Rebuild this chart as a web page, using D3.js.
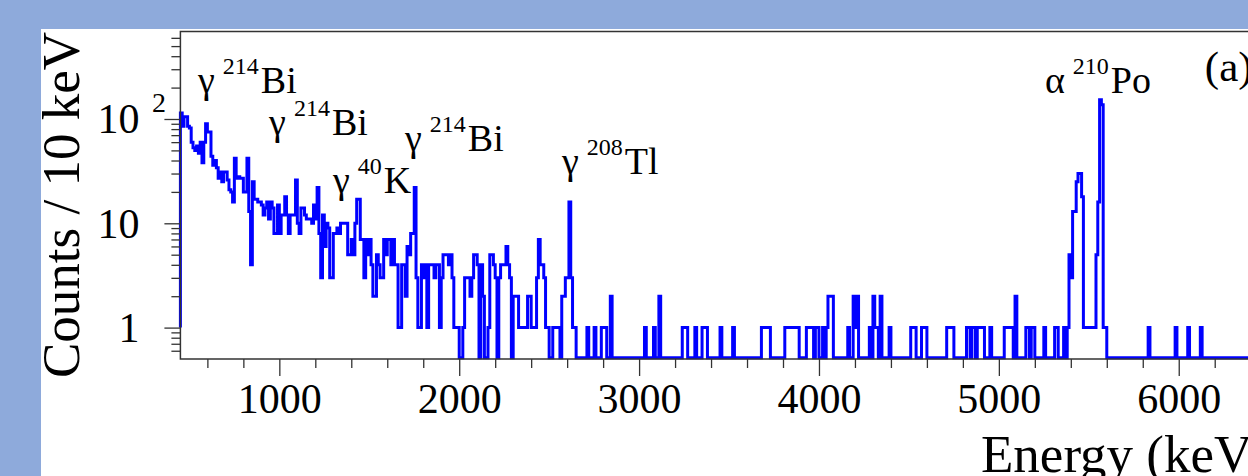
<!DOCTYPE html>
<html><head><meta charset="utf-8">
<script src="https://cdn.jsdelivr.net/npm/d3@7"></script>
<style>
html,body{margin:0;padding:0;background:#8eaadb;overflow:hidden;}
svg{display:block;}
text{font-family:"Liberation Serif","Times New Roman",serif;fill:#000;}
</style></head><body>
<svg id="c" width="1248" height="476"></svg>
<script>
// ---------- data ----------
const binStart = 450;          // keV, first bin lower edge
const binWidth = 10;           // keV
const binEnd = 7000;           // keV
// counts per 10 keV bin from 450 keV to 2650 keV
const denseCounts = [
  114, 85,105,105, 85, 82, 60, 53, 50, 55,
   47, 60, 38, 60, 90, 75, 75, 44, 36, 40,
   34, 27, 31, 25, 31, 31, 26, 21, 20, 16,
   42, 27, 28, 27, 27, 20, 20, 42, 13,  4,
   25, 17, 17, 16, 16, 15, 12, 14, 16, 11,
   16, 14,  8,  8, 15,  8, 12, 12, 18, 12,
    8, 12, 12, 12, 26, 10,  8, 14, 14, 12,
   11, 11, 11, 10, 15, 11, 22,  8,  3, 12,
    6, 10,  9,  3,  3,  8,  8,  9,  8, 10,
   10, 10, 10,  5,  5,  7,  5, 10, 17, 17,
    7,  7,  3,  7,  5,  7,  4,  2,  2,  5,
    4,  3,  3,  7,  5,  7,  7,  4,  7,  4,
    4,  1,  1,  4,  4,  2,  6,  5,  8,  8,
   22,  3,  1,  1,  4,  3,  4,  1,  4,  4,
    4,  3,  4,  4,  1,  3,  5,  5,  5,  4,
    5,  3,  1,  1,  1,  0,  0,  1,  3,  3,
    3,  2,  3,  5,  5,  4,  0,  4,  2,  0,
    0,  1,  5,  5,  4,  3,  0,  3,  4,  4,
    4,  6,  4,  3,  0,  2,  2,  2,  1,  1,
    1,  1,  1,  2,  2,  1,  1,  1,  3,  7,
    4,  4,  3,  1,  1,  0,  0,  1,  1,  1,
    1,  0,  2,  2,  3,  3, 16,  3,  1,  1
];
// non-empty bins above 2650 keV (bin lower edge, counts)
const sparseEnergy = [
  2710,2750,2790,2800,2810,2840,3030,3080,3110,3240,3250,3260,3310,3350,3360,3370,3450,3520,
  3680,3690,3700,3710,3720,3810,3820,3830,3840,3850,3860,3870,3880,3930,3940,3950,3960,3980,3990,
  4020,4040,4050,4060,4070,4160,4190,4200,4210,4280,4300,4310,4320,4340,4390,
  4510,4520,4530,4570,4580,4590,4710,4720,4730,4740,4820,4830,4850,4860,4880,4890,4900,4910,4950,
  5030,5040,5050,5060,5070,5090,5150,5160,5180,5190,5250,5310,5320,5360,5380,
  5390,5400,5410,5420,5430,5440,5450,5460,5470,5480,5490,5500,5510,5520,5530,
  5540,5550,5560,5570,5580,5590,5830,5980,6050,6120
];
const sparseCount = [
  1,1,1,1,1,2,1,1,2,1,1,1,1,1,1,1,1,1,
  1,1,1,1,1,1,1,1,1,1,1,1,1,1,1,1,1,1,1,
  1,1,2,2,2,1,2,1,2,1,2,1,1,2,1,
  1,1,1,1,1,1,1,1,1,1,1,1,1,1,1,1,1,1,1,
  1,1,1,1,1,2,1,1,1,1,1,1,1,1,1,
  5,3,13,13,25,30,30,18,1,1,1,1,1,1,1,
  5,16,153,137,1,1,1,1,1,1
];
const xMajorTicks = [1000,2000,3000,4000,5000,6000,7000];
const xMinorTicks = d3.range(600, 7000, 200).filter(v => v % 1000 !== 0);
const yMajorTicks = [1, 10, 100];
const yMajorLabels = ["1", "10", "10"];
const yMajorExponents = ["", "", "2"];
const yMinorTicks = [0.6,0.7,0.8,0.9,2,3,4,5,6,7,8,9,20,30,40,50,60,70,80,90,200,300,400,500,600];
// peak annotations (anchor given in data coordinates: energy, counts)
const labelGreek   = ["γ","γ","γ","γ","γ","α"];
const labelMass    = ["214","214","40","214","208","210"];
const labelElement = ["Bi","Bi","K","Bi","Tl","Po"];
const labelEnergy  = [548, 943, 1298, 1699, 2571, 5256];
const labelCounts  = [177, 70, 19.5, 49, 30, 177];
const panelLabel = "(a)", panelLabelEnergy = 6145, panelLabelCounts = 231;
const xTitle = "Energy (keV)";
const yTitle = "Counts / 10 keV";

// ---------- drawing ----------
const W = 1248, H = 476;
const svg = d3.select("#c");
svg.append("rect").attr("width", W).attr("height", H).attr("fill", "#8eaadb");
svg.append("rect").attr("x", 41).attr("y", 29).attr("width", W - 41).attr("height", H - 29).attr("fill", "#fff");

const x0 = 180.4, kx = 0.17988;
const x = d3.scaleLinear().domain([binStart, binEnd]).range([x0, x0 + (binEnd - binStart) * kx]);
const y = d3.scaleLog().domain([0.5, 690]).range([359, 31.5]);
const yBottom = y.range()[0], yTop = y.range()[1];

// histogram
const nBins = Math.round((binEnd - binStart) / binWidth);
const counts = new Array(nBins).fill(0);
denseCounts.forEach((c, i) => counts[i] = c);
sparseEnergy.forEach((e, i) => counts[Math.round((e - binStart) / binWidth)] = sparseCount[i]);
const yv = c => c > 0 ? y(c) : yBottom - 1.3;
const pts = [[x(binStart), y(1)]];
counts.forEach((c, i) => pts.push([x(binStart + i * binWidth), yv(c)]));
pts.push([x(binStart + nBins * binWidth), yv(counts[nBins - 1])]);
svg.append("path")
  .attr("d", d3.line().curve(d3.curveStepAfter)(pts))
  .attr("fill", "none").attr("stroke", "#0000ff").attr("stroke-width", 3)
  .attr("stroke-linejoin", "miter");

// axes
const axisColor = "#333";
const gx = svg.append("g").attr("transform", `translate(0,${yBottom})`);
gx.append("g").call(d3.axisBottom(x).tickValues(xMinorTicks).tickSize(9).tickFormat(""));
gx.append("g").call(d3.axisBottom(x).tickValues(xMajorTicks).tickSize(17).tickFormat(d3.format("d")));
gx.selectAll(".domain").remove();
gx.selectAll("line").attr("stroke", axisColor).attr("stroke-width", 1.3);
gx.selectAll("text").attr("y", 54).attr("dy", 0)
  .style("font-family", '"Liberation Serif",serif').style("font-size", "42px").attr("fill", "#000");

const gy = svg.append("g").attr("transform", `translate(${x0},0)`);
gy.append("g").call(d3.axisLeft(y).tickValues(yMinorTicks).tickSize(9).tickFormat(""));
const gyMaj = gy.append("g").call(d3.axisLeft(y).tickValues(yMajorTicks).tickSize(16).tickPadding(25)
  .tickFormat((d, i) => yMajorLabels[i]));
gy.selectAll(".domain").remove();
gy.selectAll("line").attr("stroke", axisColor).attr("stroke-width", 1.3);
gyMaj.selectAll("text").attr("dy", "0.33em")
  .style("font-family", '"Liberation Serif",serif').style("font-size", "42px").attr("fill", "#000");
gyMaj.selectAll(".tick").each(function(d, i) {
  if (yMajorExponents[i]) {
    d3.select(this).append("text").attr("x", -28.5).attr("y", -7).attr("text-anchor", "start")
      .style("font-family", '"Liberation Serif",serif').style("font-size", "28px").attr("fill", "#000")
      .text(yMajorExponents[i]);
  }
});

// frame
const xRight = x.range()[1];
svg.append("path")
  .attr("d", `M${xRight},${yTop}H${x0}V${yBottom}H${xRight}`)
  .attr("fill", "none").attr("stroke", axisColor).attr("stroke-width", 1.5);

// titles
svg.append("text").attr("transform", `translate(79,32) rotate(-90)`)
  .attr("text-anchor", "end").style("font-size", "53px").text(yTitle);
svg.append("text").attr("x", 981).attr("y", 472)
  .attr("text-anchor", "start").style("font-size", "53px").text(xTitle);

// annotations
labelGreek.forEach((g, i) => {
  const t = svg.append("text").attr("x", x(labelEnergy[i])).attr("y", y(labelCounts[i]))
    .style("font-size", "38px");
  t.append("tspan").text(g);
  t.append("tspan").attr("dx", 8).attr("dy", -19).style("font-size", "24px").text(labelMass[i]);
  t.append("tspan").attr("dx", 2).attr("dy", 19).text(labelElement[i]);
});
svg.append("text").attr("x", x(panelLabelEnergy)).attr("y", y(panelLabelCounts))
  .style("font-size", "43px").text(panelLabel);
</script>
</body></html>
